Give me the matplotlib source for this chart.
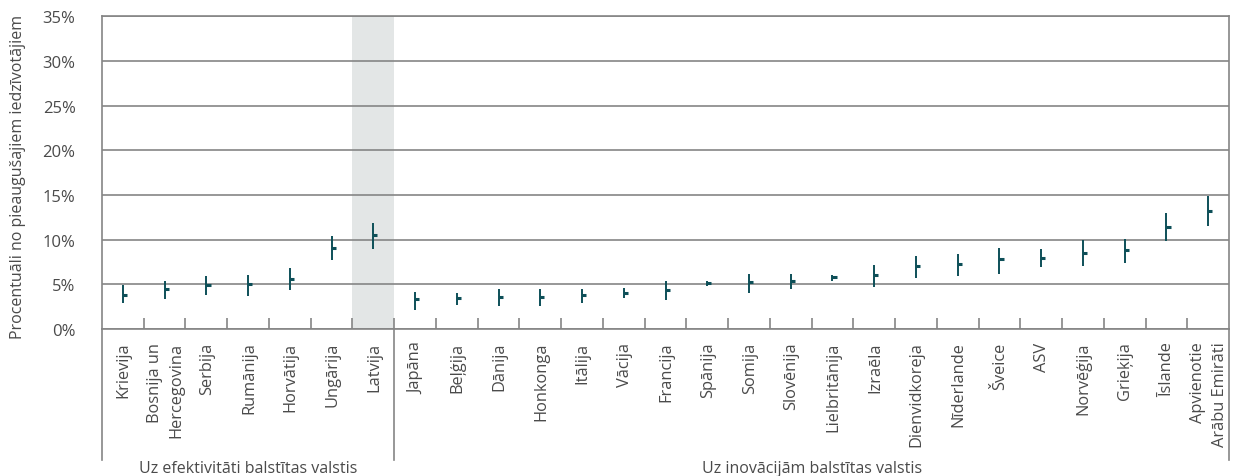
import numpy as np
import matplotlib.pyplot as plt
from matplotlib.transforms import blended_transform_factory

plt.rcParams['font.family'] = ['Open Sans', 'DejaVu Sans']

# Countries, grouped by development stage
countries = ["Krievija", "Bosnija un\nHercegovina", "Serbija", "Rumānija", "Horvātija",
             "Ungārija", "Latvija",
             "Japāna", "Beļģija", "Dānija", "Honkonga", "Itālija", "Vācija", "Francija",
             "Spānija", "Somija", "Slovēnija", "Lielbritānija", "Izraēla", "Dienvidkoreja",
             "Nīderlande", "Šveice", "ASV", "Norvēģija", "Grieķija", "Īslande",
             "Apvienotie\nArābu Emirāti"]
n_efficiency = 7
group_names = ["Uz efektivitāti balstītas valstis", "Uz inovācijām balstītas valstis"]
highlight = "Latvija"

# Estimate and confidence interval (%)
estimate = [3.84, 4.51, 4.96, 5.07, 5.63, 9.10, 10.56,
            3.32, 3.47, 3.62, 3.62, 3.81, 4.07, 4.37, 5.11, 5.22, 5.41, 5.78, 6.08,
            7.09, 7.24, 7.84, 7.98, 8.54, 8.84, 11.45, 13.24]
ci_low = [2.88, 3.39, 3.84, 3.73, 4.40, 7.76, 8.99,
          2.16, 2.72, 2.61, 2.61, 2.95, 3.51, 3.28, 4.85, 4.07, 4.51, 5.41, 4.74,
          5.75, 5.97, 6.19, 6.97, 7.09, 7.42, 9.88, 11.56]
ci_high = [4.92, 5.37, 5.93, 6.04, 6.83, 10.41, 11.86,
           4.18, 4.03, 4.48, 4.48, 4.48, 4.59, 5.37, 5.37, 6.16, 6.16, 6.04, 7.16,
           8.17, 8.39, 9.07, 8.95, 9.96, 10.07, 12.98, 14.88]
y_ticks = [0, 5, 10, 15, 20, 25, 30, 35]

teal = '#0d4f58'
grid_c = '#858585'
text_c = '#4a4a4a'

fig = plt.figure(figsize=(12.4, 4.77), dpi=100)
ax = fig.add_axes([102 / 1240, 1 - 330 / 477, 1127 / 1240, 312.7 / 477])

n = len(countries)
x = np.arange(n)

# highlighted column
hi = countries.index(highlight)
ax.axvspan(hi - 0.5, hi + 0.5, color='#e3e6e6', zorder=0, lw=0)

# horizontal grid
for v in y_ticks:
    ax.axhline(v, color=grid_c, lw=1.2, zorder=1)

# intervals and point estimates
ax.vlines(x, ci_low, ci_high, color=teal, lw=1.4, zorder=3)
ax.hlines(estimate, x, x + 0.1, color=teal, lw=2.2, zorder=3)

ax.set_xlim(-0.5, n - 0.5)
ax.set_ylim(0, 35)
ax.set_yticks(y_ticks)
ax.set_yticklabels([f"{v}%" for v in y_ticks], fontsize=12, color=text_c)
ax.tick_params(axis='y', length=0, pad=19)

# category separators as inside ticks
ax.set_xticks(np.arange(0.5, n - 1, 1), minor=True)
ax.set_xticks([])
ax.tick_params(axis='x', which='minor', direction='in', length=8, width=1.2, color=grid_c)

for side in ['left', 'right', 'top', 'bottom']:
    ax.spines[side].set_color(grid_c)
    ax.spines[side].set_linewidth(1.2)

# country labels under the axis
trans = blended_transform_factory(ax.transData, ax.transAxes)
for i, name in enumerate(countries):
    ax.text(i + 0.02, -0.04, name, rotation=90, ha='center', va='top', multialignment='right',
            fontsize=11.8, color=text_c, transform=trans, linespacing=1.45)

# group dividers below the axis
for xs in [-0.5, n_efficiency - 0.5, n - 0.5]:
    ax.plot([xs, xs], [0, -0.42], color=grid_c, lw=1.2, transform=trans, clip_on=False)

bounds = [(-0.5, n_efficiency - 0.5), (n_efficiency - 0.5, n - 0.5)]
for name, (a, b) in zip(group_names, bounds):
    ax.text((a + b) / 2, -0.445, name, ha='center', va='center', fontsize=11.5,
            color=text_c, transform=trans)

fig.text(18 / 1240, 1 - 177 / 477, "Procentuāli no pieaugušajiem iedzīvotājiem",
         rotation=90, ha='center', va='center', fontsize=11.5, color=text_c)

fig.savefig('out.png', dpi=100)
